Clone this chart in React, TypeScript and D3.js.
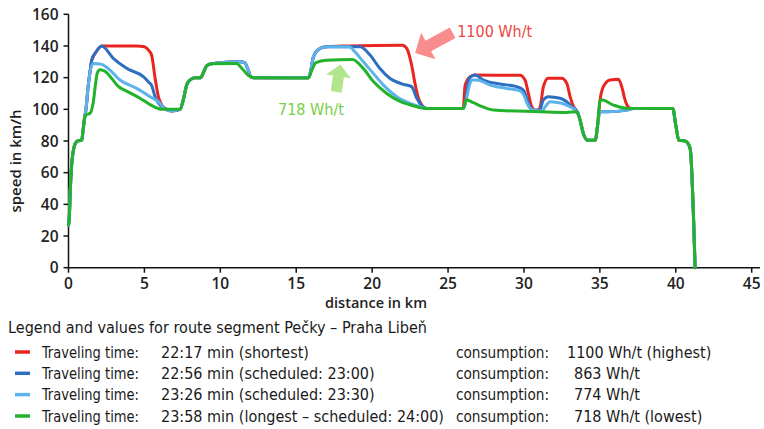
import React from "react";
import * as d3 from "d3";

type Pt = [number, number];

// ---- data: distance (km) vs speed (km/h) ----
const launch: Pt[] = [[0, 27], [0.05, 31], [0.12, 50], [0.2, 64], [0.3, 73], [0.43, 78], [0.6, 80], [0.87, 80.5], [0.95, 86], [1.05, 94]];
const climb: Pt[] = [[1.15, 100], [1.3, 115], [1.45, 126], [1.53, 131], [1.8, 136], [2.19, 140]];
const plateau: Pt[] = [[7.35, 100], [7.56, 106], [7.79, 115.5], [8.0, 118.5], [8.33, 120], [8.7, 120], [8.88, 123], [9.1, 127.5], [9.4, 128.8]];
const fastHill: Pt[] = [[11.3, 130], [11.6, 129.5], [11.84, 124.8], [12.0, 120.6], [12.2, 120], [15.8, 120], [15.9, 122], [16.13, 133], [16.57, 138.5], [17.0, 139.5]];
const dip: Pt[] = [[33.5, 98.5], [33.7, 93], [33.9, 85], [34.2, 80.5], [34.7, 80.5], [34.85, 90]];
const finish: Pt[] = [[39.8, 100.5], [40.0, 90], [40.2, 80.5], [40.6, 80], [40.8, 78.5], [40.95, 75], [41.27, 0]];

const greenSeries: Pt[] = [
  ...launch, [1.15, 96.5], [1.42, 97.5], [1.5, 99], [1.64, 105], [1.78, 116], [1.9, 123], [2.07, 125], [2.4, 124], [2.85, 119.5],
  [3.28, 114.5], [3.83, 111.5], [4.71, 107], [5.37, 103], [5.9, 100.5], [6.2, 100], ...plateau, [11.05, 129], [11.5, 125],
  [11.84, 121.5], [12.2, 120], [15.8, 119.8], [16.0, 124], [16.3, 129.5], [17.0, 131], [18.7, 131.5], [19.4, 126], [20.08, 117.5],
  [20.96, 110], [21.84, 105], [22.7, 102.3], [23.6, 100.5], [26.0, 100.5], [26.2, 106], [26.67, 104.2], [27.3, 101.5], [28.0, 99.5],
  [31.0, 98.5], [32.8, 98], ...dip, [35.0, 105], [35.1, 106], [35.9, 102.7], [36.8, 100.6], ...finish,
];

const lightBlueSeries: Pt[] = [
  ...launch, [1.15, 100], [1.3, 115], [1.45, 125], [1.64, 129], [2.19, 128.4], [2.73, 124.8], [3.39, 118.5], [4.49, 113.2],
  [5.37, 108], [6.03, 103.8], [6.3, 100.5], [6.69, 99], ...plateau, ...fastHill, [18.5, 139.5], [18.76, 137.4], [19.42, 130],
  [20.08, 122.7], [20.74, 115.3], [21.62, 108], [22.5, 103.8], [23.16, 101.6], [23.6, 100.5], [26.0, 100.5], [26.2, 106],
  [26.35, 113], [26.56, 118.5], [26.9, 118.5], [27.77, 115.3], [28.87, 113.2], [29.74, 111.7], [30.0, 109], [30.2, 104],
  [30.5, 100], [31.2, 99], [31.4, 101.6], [31.72, 104.8], [32.49, 103.8], [33.04, 101.6], ...dip, [35.0, 98.5], [35.5, 98.5],
  [36.8, 99.5], [37.2, 100.5], ...finish,
];

const darkBlueSeries: Pt[] = [
  ...launch, ...climb, [2.95, 132.2], [3.83, 125.9], [4.93, 120.6], [5.3, 117], [5.48, 115], [5.7, 108], [6.03, 102.7],
  [6.47, 100], [6.8, 99], ...plateau, ...fastHill, [19.2, 139.5], [19.86, 134.3], [20.5, 125.9], [21.16, 119.6], [22.05, 115.8],
  [22.6, 114.3], [22.94, 107], [23.27, 102.3], [23.6, 100.5], [26.0, 100.5], [26.2, 107], [26.34, 118], [26.5, 120.6],
  [26.78, 121.6], [27.33, 118.5], [28.43, 116], [29.52, 114.3], [29.96, 112.2], [30.22, 105.9], [30.5, 100], [31.0, 99],
  [31.28, 105.9], [31.6, 108], [32.38, 107], [32.82, 104.8], [33.15, 101.6], ...dip, [35.0, 98.5], [35.5, 98.5], [36.8, 99.5],
  [37.2, 100.5], ...finish,
];

const redSeries: Pt[] = [
  ...launch, ...climb, [4.5, 140], [5.0, 139.5], [5.3, 137], [5.48, 134], [5.7, 120], [5.92, 108], [6.14, 102.7], [6.36, 100.5],
  [6.8, 99], ...plateau, ...fastHill, [18.4, 140], [22.0, 140.5], [22.28, 138.5], [22.6, 128], [22.83, 116], [23.05, 107],
  [23.27, 102.7], [23.6, 100.5], [26.0, 100.5], [26.12, 115], [26.45, 120.6], [26.78, 121.6], [29.74, 121.5], [30.07, 118.5],
  [30.29, 110], [30.51, 101.6], [30.73, 99.5], [31.0, 100], [31.1, 103], [31.28, 114.3], [31.6, 119.6], [32.48, 119.6],
  [32.82, 116.4], [33.04, 108], [33.25, 102], ...dip, [35.0, 105], [35.23, 114.3], [35.67, 118.5], [36.22, 119], [36.44, 114.3],
  [36.66, 105.9], [36.88, 101.3], [37.1, 100.5], ...finish,
];

const seriesNames = ["shortest", "scheduled 23:00", "scheduled 23:30", "longest"];
const seriesColors = ["#e8261f", "#2e6ec0", "#5cb2ea", "#22b22c"];
const seriesData = [redSeries, darkBlueSeries, lightBlueSeries, greenSeries];

const xTicks = [0, 5, 10, 15, 20, 25, 30, 35, 40, 45];
const yTicks = [0, 20, 40, 60, 80, 100, 120, 140, 160];

const legendTitle = "Legend and values for route segment Pečky – Praha Libeň";
const legendTimes = [
  "22:17 min (shortest)",
  "22:56 min (scheduled: 23:00)",
  "23:26 min (scheduled: 23:30)",
  "23:58 min (longest – scheduled: 24:00)",
];
const legendConsumption = ["1100 Wh/t (highest)", "863 Wh/t", "774 Wh/t", "718 Wh/t (lowest)"];

// annotation arrows: tip / tail in data units
const annotations = [
  { label: "1100 Wh/t", text: "#ef4540", fill: "#f98c8c", tip: [22.83, 135.5] as Pt, tail: [25.3, 148.3] as Pt, textAt: [25.6, 145.5] as Pt, headLen: 15, headW: 30, shaftW: 12 },
  { label: "718 Wh/t", text: "#78d048", fill: "#b3e58c", tip: [17.9, 128.3] as Pt, tail: [17.63, 111] as Pt, textAt: [13.8, 96.6] as Pt, headLen: 12, headW: 25, shaftW: 11 },
];

const W = 764, H = 429;
const x = d3.scaleLinear().domain([0, 45]).range([68.5, 751.7]);
const y = d3.scaleLinear().domain([0, 160]).range([267.7, 14.3]);

const line = d3.line<Pt>().x((d) => x(d[0])).y((d) => y(d[1])).curve(d3.curveMonotoneX);

function arrowPath(tipD: Pt, tailD: Pt, headLen: number, headW: number, shaftW: number) {
  const T = [x(tipD[0]), y(tipD[1])];
  const B = [x(tailD[0]), y(tailD[1])];
  const dx = T[0] - B[0], dy = T[1] - B[1];
  const len = Math.hypot(dx, dy);
  const u = [dx / len, dy / len];
  const n = [-u[1], u[0]];
  const N = [T[0] - u[0] * headLen, T[1] - u[1] * headLen];
  const p = (c: number[], k: number) => `${c[0] + n[0] * k},${c[1] + n[1] * k}`;
  return `M${p(B, shaftW / 2)}L${p(N, shaftW / 2)}L${p(N, headW / 2)}L${T[0]},${T[1]}L${p(N, -headW / 2)}L${p(N, -shaftW / 2)}L${p(B, -shaftW / 2)}Z`;
}

const axisFont = "'Open Sans', 'DejaVu Sans', sans-serif";
const legendFont = "'Liberation Sans Narrow', 'DejaVu Sans Condensed', 'Roboto', sans-serif";

export default function App() {
  const rowY = [352, 373.3, 394.6, 416];
  return (
    <svg width={W} height={H} style={{ position: "absolute", left: 0, top: 0, background: "#fff" }}>
      <rect width={W} height={H} fill="#fff" />
      {/* axes */}
      <line x1={x(0)} x2={x(0)} y1={y(160)} y2={y(0)} stroke="#111" strokeWidth={1.5} />
      <line x1={x(0)} x2={760} y1={y(0)} y2={y(0)} stroke="#111" strokeWidth={1.5} />
      {yTicks.map((t) => (
        <g key={"y" + t}>
          <line x1={x(0) - 5} x2={x(0)} y1={y(t)} y2={y(t)} stroke="#111" strokeWidth={1.5} />
          <text x={x(0) - 10} y={y(t)} dy="0.36em" textAnchor="end" fontFamily={axisFont} fontWeight={600} fontSize={15.5} fill="#222">{t}</text>
        </g>
      ))}
      {xTicks.map((t) => (
        <g key={"x" + t}>
          <line x1={x(t)} x2={x(t)} y1={y(0)} y2={y(0) + 5} stroke="#111" strokeWidth={1.5} />
          <text x={x(t)} y={289} textAnchor="middle" fontFamily={axisFont} fontWeight={600} fontSize={15.5} fill="#222">{t}</text>
        </g>
      ))}
      <text transform={`translate(21,${161}) rotate(-90)`} textAnchor="middle" fontFamily={axisFont} fontWeight={600} fontSize={15} fill="#222">speed in km/h</text>
      <text x={376} y={308} textAnchor="middle" fontFamily={axisFont} fontWeight={600} fontSize={14.5} fill="#222">distance in km</text>

      {/* series */}
      {seriesData.map((s, i) => (
        <path key={seriesNames[i]} d={line(s) ?? ""} fill="none" stroke={seriesColors[i]} strokeWidth={3} strokeLinejoin="round" strokeLinecap="round" />
      ))}

      {/* annotations */}
      {annotations.map((a) => (
        <g key={a.label}>
          <path d={arrowPath(a.tip, a.tail, a.headLen, a.headW, a.shaftW)} fill={a.fill} />
          <text x={x(a.textAt[0])} y={y(a.textAt[1])} fontFamily={legendFont} fontSize={16} fill={a.text}>{a.label}</text>
        </g>
      ))}

      {/* legend */}
      <text x={8} y={333} fontFamily={legendFont} fontSize={16} fill="#1a1a1a" textLength={419} lengthAdjust="spacingAndGlyphs">{legendTitle}</text>
      {legendTimes.map((t, i) => (
        <g key={t}>
          <line x1={15} x2={30} y1={rowY[i]} y2={rowY[i]} stroke={seriesColors[i]} strokeWidth={3.5} />
          <text x={42} y={rowY[i]} dy="0.35em" fontFamily={legendFont} fontSize={16} fill="#1a1a1a" textLength={97} lengthAdjust="spacingAndGlyphs">Traveling time:</text>
          <text x={161} y={rowY[i]} dy="0.35em" fontFamily={legendFont} fontSize={16} fill="#1a1a1a">{t}</text>
          <text x={456} y={rowY[i]} dy="0.35em" fontFamily={legendFont} fontSize={16} fill="#1a1a1a" textLength={93} lengthAdjust="spacingAndGlyphs">consumption:</text>
          <text x={i === 0 ? 567 : 574} y={rowY[i]} dy="0.35em" fontFamily={legendFont} fontSize={16} fill="#1a1a1a">{legendConsumption[i]}</text>
        </g>
      ))}
    </svg>
  );
}
